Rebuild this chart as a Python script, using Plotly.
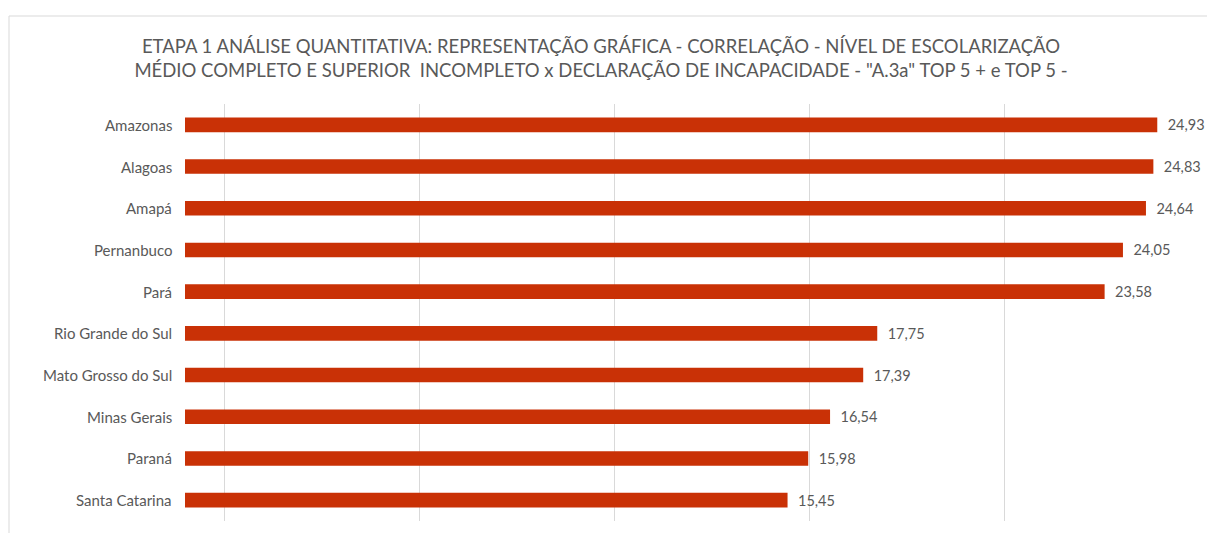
import plotly.graph_objects as go

# Taxa por estado (%), do maior para o menor
estados = [
    "Amazonas", "Alagoas", "Amapá", "Pernanbuco", "Pará",
    "Rio Grande do Sul", "Mato Grosso do Sul", "Minas Gerais", "Paraná", "Santa Catarina",
]
valores = [24.93, 24.83, 24.64, 24.05, 23.58, 17.75, 17.39, 16.54, 15.98, 15.45]

titulo = (
    "ETAPA 1 ANÁLISE QUANTITATIVA: REPRESENTAÇÃO GRÁFICA - CORRELAÇÃO - NÍVEL DE ESCOLARIZAÇÃO<br>"
    "MÉDIO COMPLETO E SUPERIOR  INCOMPLETO x DECLARAÇÃO DE INCAPACIDADE - \"A.3a\" TOP 5 + e TOP 5 -"
)

W, H = 1207, 533
ML, MR, MT, MB = 29, 8, 104, 12
PW, PH = W - ML - MR, H - MT - MB

def px_x(p):
    return (p - ML) / PW

def px_y(p):
    return 1 - (p - MT) / PH

FONT = "Lato"
GRAY = "#595959"

fig = go.Figure()
fig.add_trace(go.Bar(
    y=estados,
    x=valores,
    orientation="h",
    width=0.35,
    marker=dict(color="#C93106", line=dict(width=0)),
    texttemplate="\u00a0\u00a0%{x:.2f}",
    textposition="outside",
    constraintext="none",
    textfont=dict(family=FONT, size=14.5, color=GRAY),
    cliponaxis=False,
    hoverinfo="skip",
))

# Category names sit just left of the zero line, inside the plot area
for nome in estados:
    fig.add_annotation(
        x=0, y=nome, xref="x", yref="y",
        text=nome, showarrow=False,
        xanchor="right", xshift=-11,
        font=dict(family=FONT, size=15, color=GRAY),
    )

# Chart frame
fig.add_shape(
    type="rect", xref="paper", yref="paper",
    x0=px_x(9), x1=px_x(W + 5), y0=px_y(H + 5), y1=px_y(16),
    line=dict(color="#d9d9d9", width=1), fillcolor="rgba(0,0,0,0)",
    layer="below",
)

fig.update_layout(
    width=W, height=H,
    margin=dict(l=ML, r=MR, t=MT, b=MB),
    paper_bgcolor="white",
    plot_bgcolor="white",
    separators=", ",
    showlegend=False,
    title=dict(
        text=titulo, x=601 / W, xref="container", xanchor="center",
        y=1 - 53 / H, yanchor="middle",
        font=dict(family=FONT, size=18.5, color=GRAY),
    ),
    xaxis=dict(
        range=[-4, 26],
        tickvals=[-4, 1, 6, 11, 16, 21, 26],
        showticklabels=False,
        showgrid=True, gridcolor="#d9d9d9", gridwidth=1,
        zeroline=False, showline=False, ticks="",
        fixedrange=True,
    ),
    yaxis=dict(
        categoryorder="array",
        categoryarray=estados[::-1],
        showticklabels=False,
        showgrid=False, zeroline=False, showline=False, ticks="",
        fixedrange=True,
    ),
)

fig.write_html("out.html")
